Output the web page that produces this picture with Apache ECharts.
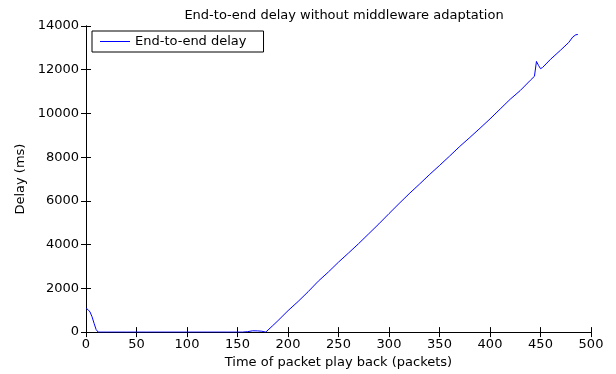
<!DOCTYPE html>
<html>
<head>
<meta charset="utf-8">
<title>End-to-end delay without middleware adaptation</title>
<script src="https://cdn.jsdelivr.net/npm/echarts@6/dist/echarts.min.js"></script>
<style>
  html, body { margin: 0; padding: 0; background: #fff; }
  #chart { width: 616px; height: 374px; }
</style>
</head>
<body>
<div id="chart"></div>
<script>
// Packet index at which each delay sample is taken
var packets = [
  0, 2, 4, 6, 8, 10, 12, 20, 40, 60, 80, 100, 120, 140, 155,
  160, 165, 170, 174, 178,
  185, 190, 200, 210, 220, 230, 240, 250, 260, 270, 280, 290,
  300, 310, 320, 330, 340, 350, 360, 370, 380, 390, 400, 410,
  420, 430, 440, 444, 446, 448, 450, 452, 460, 470, 478, 482, 485, 487
];
// End-to-end delay (ms) for each packet above
var delays = [
  1080, 1030, 920, 700, 400, 120, 0, 0, 0, 0, 0, 0, 0, 0, 0,
  20, 60, 55, 40, 0,
  300, 520, 980, 1400, 1850, 2330, 2750, 3200, 3620, 4050, 4500, 4950,
  5420, 5880, 6330, 6760, 7200, 7620, 8050, 8490, 8900, 9320, 9750, 10200,
  10650, 11050, 11520, 11700, 12380, 12200, 12050, 12100, 12480, 12900, 13250, 13500, 13600, 13610
];
var xTicks = { min: 0, max: 500, interval: 50 };
var yTicks = { min: 0, max: 14000, interval: 2000 };

var seriesData = packets.map(function (p, i) { return [p, delays[i]]; });

var font = 'DejaVu Sans';
var ink = '#000';

function plain(v) { return String(v); }

function frameAxis(base) {
  return Object.assign({
    type: 'value',
    axisLine: { show: true, lineStyle: { color: ink, width: 1 } },
    axisTick: { show: true, inside: true, length: 5, lineStyle: { color: ink } },
    splitLine: { show: false },
    axisLabel: { show: false }
  }, base);
}

var chart = echarts.init(document.getElementById('chart'), null, { renderer: 'canvas' });
chart.setOption({
  animation: false,
  backgroundColor: '#fff',
  title: {
    text: 'End-to-end delay without middleware adaptation',
    left: 339, top: 4, textAlign: 'center',
    textStyle: { fontFamily: font, fontSize: 13, fontWeight: 'normal', color: ink }
  },
  legend: {
    left: 92, top: 31,
    padding: [4, 17, 4, 8],
    icon: 'rect',
    itemWidth: 30, itemHeight: 1,
    borderColor: ink, borderWidth: 1, borderRadius: 0,
    backgroundColor: '#fff',
    textStyle: { fontFamily: font, fontSize: 13, color: ink },
    data: ['End-to-end delay']
  },
  grid: { left: 86, right: 25, top: 26, bottom: 37, containLabel: false },
  xAxis: [
    frameAxis({
      min: xTicks.min, max: xTicks.max, interval: xTicks.interval,
      position: 'bottom',
      name: 'Time of packet play back (packets)',
      nameLocation: 'middle', nameGap: 19,
      nameTextStyle: { fontFamily: font, fontSize: 13, color: ink },
      axisLabel: { show: true, margin: 6, fontFamily: font, fontSize: 13, color: ink, formatter: plain }
    }),
    frameAxis({ min: xTicks.min, max: xTicks.max, interval: xTicks.interval, position: 'top' })
  ],
  yAxis: [
    frameAxis({
      min: yTicks.min, max: yTicks.max, interval: yTicks.interval,
      position: 'left',
      name: 'Delay (ms)',
      nameLocation: 'middle', nameGap: 53,
      nameTextStyle: { fontFamily: font, fontSize: 13, color: ink },
      axisLabel: { show: true, margin: 7, fontFamily: font, fontSize: 13, color: ink, formatter: plain }
    }),
    frameAxis({ min: yTicks.min, max: yTicks.max, interval: yTicks.interval, position: 'right' })
  ],
  series: [{
    name: 'End-to-end delay',
    type: 'line',
    xAxisIndex: 0, yAxisIndex: 0,
    data: seriesData,
    symbol: 'none',
    showSymbol: false,
    lineStyle: { color: '#0000ff', width: 1 },
    itemStyle: { color: '#0000ff' }
  }]
});
</script>
</body>
</html>
